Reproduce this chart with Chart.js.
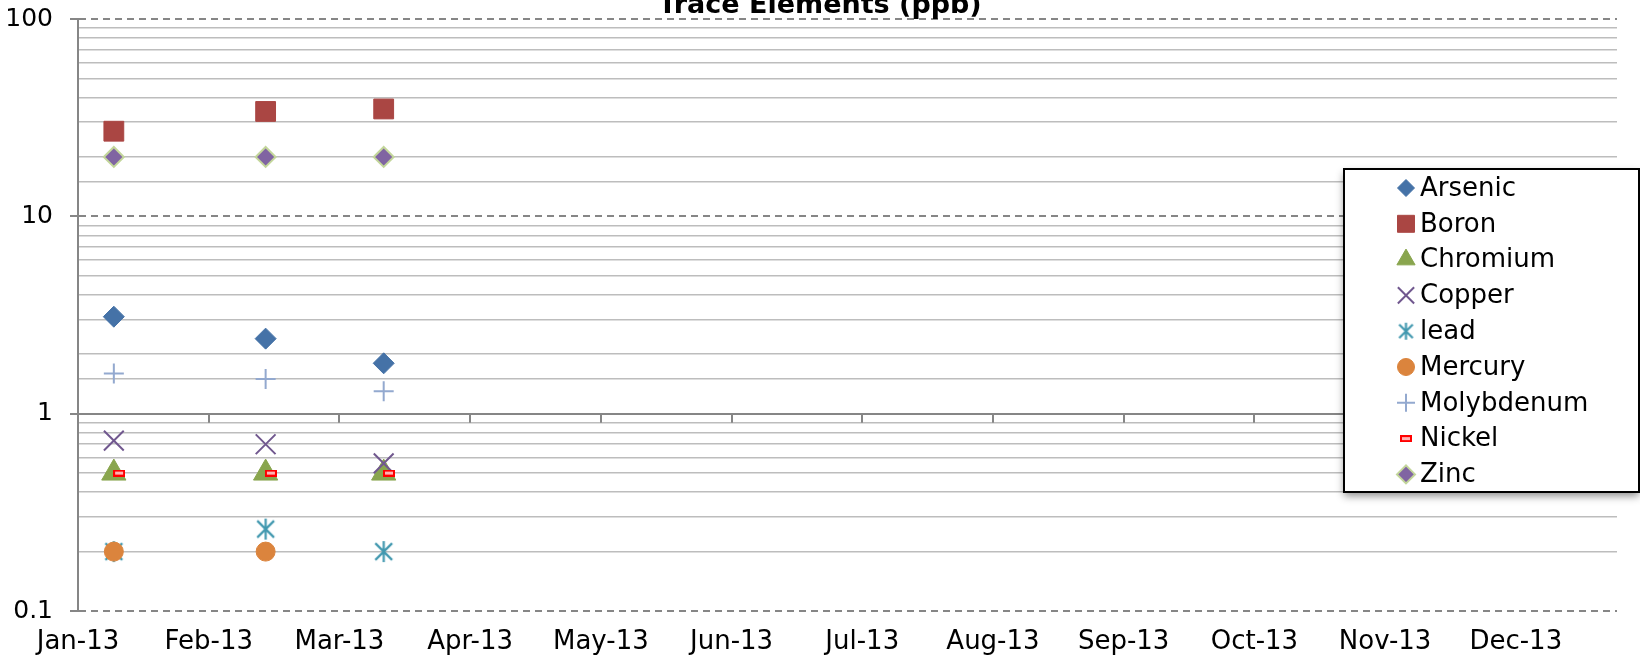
<!DOCTYPE html>
<html>
<head>
<meta charset="utf-8">
<title>Trace Elements (ppb)</title>
<script src="https://cdn.jsdelivr.net/npm/chart.js@4.4.1/dist/chart.umd.min.js"></script>
<style>
  html, body { margin: 0; padding: 0; background: #fff; }
  #wrap { width: 1640px; height: 666px; position: relative; }
</style>
</head>
<body>
<div id="wrap"><canvas id="chart" width="1640" height="666"></canvas></div>
<script>
/* Trace Elements (ppb) - log scatter, 2013 */

// x values are days since 1 Jan 2013
const sampleDays = [8.5, 44.5, 72.5];
const nickelDays = [9.75, 45.75, 73.75];

const arsenic    = [3.1, 2.4, 1.8];
const boron      = [27, 34, 35];
const chromium   = [0.5, 0.5, 0.5];
const copper     = [0.73, 0.7, 0.56];
const lead       = [0.2, 0.26, 0.2];
const mercury    = [0.2, 0.2, null];
const molybdenum = [1.6, 1.5, 1.3];
const nickel     = [0.5, 0.5, 0.5];
const zinc       = [20, 20, 20];

const seriesNames = ['Arsenic', 'Boron', 'Chromium', 'Copper', 'lead', 'Mercury', 'Molybdenum', 'Nickel', 'Zinc'];
const monthLabels = ['Jan-13', 'Feb-13', 'Mar-13', 'Apr-13', 'May-13', 'Jun-13',
                     'Jul-13', 'Aug-13', 'Sep-13', 'Oct-13', 'Nov-13', 'Dec-13'];
const tickStepDays = 31;
const yearDays = 365;
const yLabels = ['0.1', '1', '10', '100'];

const FONT = '"DejaVu Sans", sans-serif';
const AXIS_GREY = '#868686';
const MINOR_GREY = '#bdbdbd';

// custom markers for the two styles Chart.js lacks
function makeAsterisk(color, size) {
    const c = document.createElement('canvas');
    c.width = size; c.height = size;
    const g = c.getContext('2d');
    const m = size / 2, r = size / 2 - 1, d = r * 0.8;
    g.strokeStyle = color;
    g.lineWidth = 2.2;
    g.beginPath();
    g.moveTo(m, m - r); g.lineTo(m, m + r);
    g.moveTo(m - d, m - d); g.lineTo(m + d, m + d);
    g.moveTo(m + d, m - d); g.lineTo(m - d, m + d);
    g.stroke();
    return c;
}

function makeDash(w, h) {
    const c = document.createElement('canvas');
    c.width = w; c.height = h;
    const g = c.getContext('2d');
    g.fillStyle = '#ff0000';
    g.fillRect(0, 0, w, h);
    g.fillStyle = '#ffb3b3';
    g.fillRect(2, 2, w - 4, h - 4);
    return c;
}

const leadMark = makeAsterisk('#4198AF', 23);
const leadMarkSmall = makeAsterisk('#4198AF', 19);
const nickelMark = makeDash(12, 7);

function pts(days, vals) {
    return vals.map((v, i) => ({ x: days[i], y: v })).filter(p => p.y !== null);
}

const styles = [
    { data: pts(sampleDays, arsenic),    pointStyle: 'rectRot',  radius: 10.5, bg: '#4572A7', border: '#4572A7', bw: 1, legendR: 8.5 },
    { data: pts(sampleDays, boron),      pointStyle: 'rect',     radius: 14,   bg: '#AA4643', border: '#AA4643', bw: 1, legendR: 12 },
    { data: pts(sampleDays, chromium),   pointStyle: 'triangle', radius: 14,   bg: '#89A54E', border: '#89A54E', bw: 1, legendR: 10.5 },
    { data: pts(sampleDays, copper),     pointStyle: 'crossRot', radius: 14,   bg: '#71588F', border: '#71588F', bw: 2, legendR: 11.5 },
    { data: pts(sampleDays, lead),       pointStyle: leadMark,   radius: 10,   bg: '#4198AF', border: '#4198AF', bw: 2, legendR: 9, legendStyle: leadMarkSmall },
    { data: pts(sampleDays, mercury),    pointStyle: 'circle',   radius: 9.5,  bg: '#DB843D', border: '#DB843D', bw: 1, legendR: 8.5 },
    { data: pts(sampleDays, molybdenum), pointStyle: 'cross',    radius: 10,   bg: '#93A9CF', border: '#93A9CF', bw: 2, legendR: 9 },
    { data: pts(nickelDays, nickel),     pointStyle: nickelMark, radius: 6,    bg: '#ff0000', border: '#ff0000', bw: 1, legendR: 6 },
    { data: pts(sampleDays, zinc),       pointStyle: 'rectRot',  radius: 10,   bg: '#8064A2', border: '#C3D69B', bw: 2, legendR: 9 }
];

const datasets = styles.map((s, i) => ({
    label: seriesNames[i],
    data: s.data,
    pointStyle: s.pointStyle,
    pointRadius: s.radius,
    pointBackgroundColor: s.bg,
    pointBorderColor: s.border,
    pointBorderWidth: s.bw,
    showLine: false,
    order: styles.length - i   // later series on top, like Excel
}));

function isMajor(v) {
    const l = Math.log10(v);
    return Math.abs(l - Math.round(l)) < 1e-6;
}

// x axis crosses y at 1: draw its tick marks there
const crossTicks = {
    id: 'crossTicks',
    beforeDatasetsDraw(chart) {
        const { ctx, scales: { x, y } } = chart;
        const y1 = y.getPixelForValue(1);
        ctx.save();
        ctx.strokeStyle = AXIS_GREY;
        ctx.lineWidth = 2;
        ctx.beginPath();
        x.ticks.forEach((t, i) => {
            if (i === 0) return;
            const px = Math.round(x.getPixelForValue(t.value));
            ctx.moveTo(px, y1);
            ctx.lineTo(px, y1 + 9);
        });
        ctx.stroke();
        ctx.restore();
    }
};

const titleAndLegend = {
    id: 'titleAndLegend',
    afterDraw(chart) {
        const ctx = chart.ctx;
        ctx.save();
        // title sits mostly above the canvas edge
        ctx.fillStyle = '#000';
        ctx.font = 'bold 27px ' + FONT;
        ctx.textAlign = 'center';
        ctx.textBaseline = 'alphabetic';
        ctx.fillText('Trace Elements (ppb)', 820, 13);

        // legend box
        const bx = 1344, by = 169, bw = 295, bh = 323;
        ctx.save();
        ctx.shadowColor = 'rgba(0,0,0,0.45)';
        ctx.shadowBlur = 8;
        ctx.shadowOffsetY = 4;
        ctx.fillStyle = '#fff';
        ctx.fillRect(bx, by, bw, bh);
        ctx.restore();
        ctx.strokeStyle = '#000';
        ctx.lineWidth = 2;
        ctx.strokeRect(bx, by, bw, bh);

        ctx.font = '26px ' + FONT;
        ctx.textAlign = 'left';
        ctx.textBaseline = 'middle';
        chart.data.datasets.forEach((ds, i) => {
            const s = styles[i];
            const ry = 188 + i * 35.8;
            ctx.fillStyle = s.bg;
            ctx.strokeStyle = s.border;
            ctx.lineWidth = s.bw;
            Chart.helpers.drawPoint(ctx, {
                pointStyle: s.legendStyle || s.pointStyle,
                rotation: 0,
                radius: s.legendR,
                borderWidth: s.bw
            }, 1406, ry);
            ctx.fillStyle = '#000';
            ctx.fillText(ds.label, 1420, ry + 1);
        });
        ctx.restore();
    }
};

new Chart(document.getElementById('chart'), {
    type: 'scatter',
    data: { datasets },
    options: {
        responsive: false,
        animation: false,
        events: [],
        layout: { padding: { top: 19, right: 23, left: 0, bottom: 0 } },
        plugins: {
            legend: { display: false },
            title: { display: false },
            tooltip: { enabled: false }
        },
        scales: {
            x: {
                type: 'linear',
                min: 0,
                max: yearDays,
                afterBuildTicks: axis => {
                    axis.ticks = monthLabels.map((_, i) => ({ value: i * tickStepDays }));
                },
                afterFit: axis => {
                    axis.height = 55;
                    axis.paddingLeft = 0;
                    axis.paddingRight = 0;
                },
                grid: { display: false, drawTicks: false },
                border: { display: false },
                ticks: {
                    autoSkip: false,
                    maxRotation: 0,
                    padding: 16,
                    color: '#000',
                    font: { family: FONT, size: 26 },
                    callback: (v, i) => monthLabels[i]
                }
            },
            y: {
                type: 'logarithmic',
                min: 0.1,
                max: 100,
                afterFit: axis => {
                    axis.width = 78;
                    axis.paddingTop = 0;
                    axis.paddingBottom = 0;
                },
                grid: {
                    color: ctx => isMajor(ctx.tick.value) ? AXIS_GREY : MINOR_GREY,
                    lineWidth: ctx => isMajor(ctx.tick.value) ? 2 : 1.6,
                    tickColor: ctx => isMajor(ctx.tick.value) ? AXIS_GREY : 'rgba(0,0,0,0)',
                    tickLength: 8,
                    tickWidth: 2
                },
                border: {
                    display: true,
                    color: AXIS_GREY,
                    width: 2,
                    dash: ctx => (ctx.tick && isMajor(ctx.tick.value) && Math.abs(ctx.tick.value - 1) > 1e-6) ? [7, 5] : []
                },
                ticks: {
                    autoSkip: false,
                    padding: 17,
                    color: '#000',
                    font: { family: FONT, size: 25 },
                    callback: v => {
                        if (!isMajor(v)) return '';
                        const k = Math.round(Math.log10(v)) + 1;
                        return yLabels[k];
                    }
                }
            }
        }
    },
    plugins: [crossTicks, titleAndLegend]
});
</script>
</body>
</html>
